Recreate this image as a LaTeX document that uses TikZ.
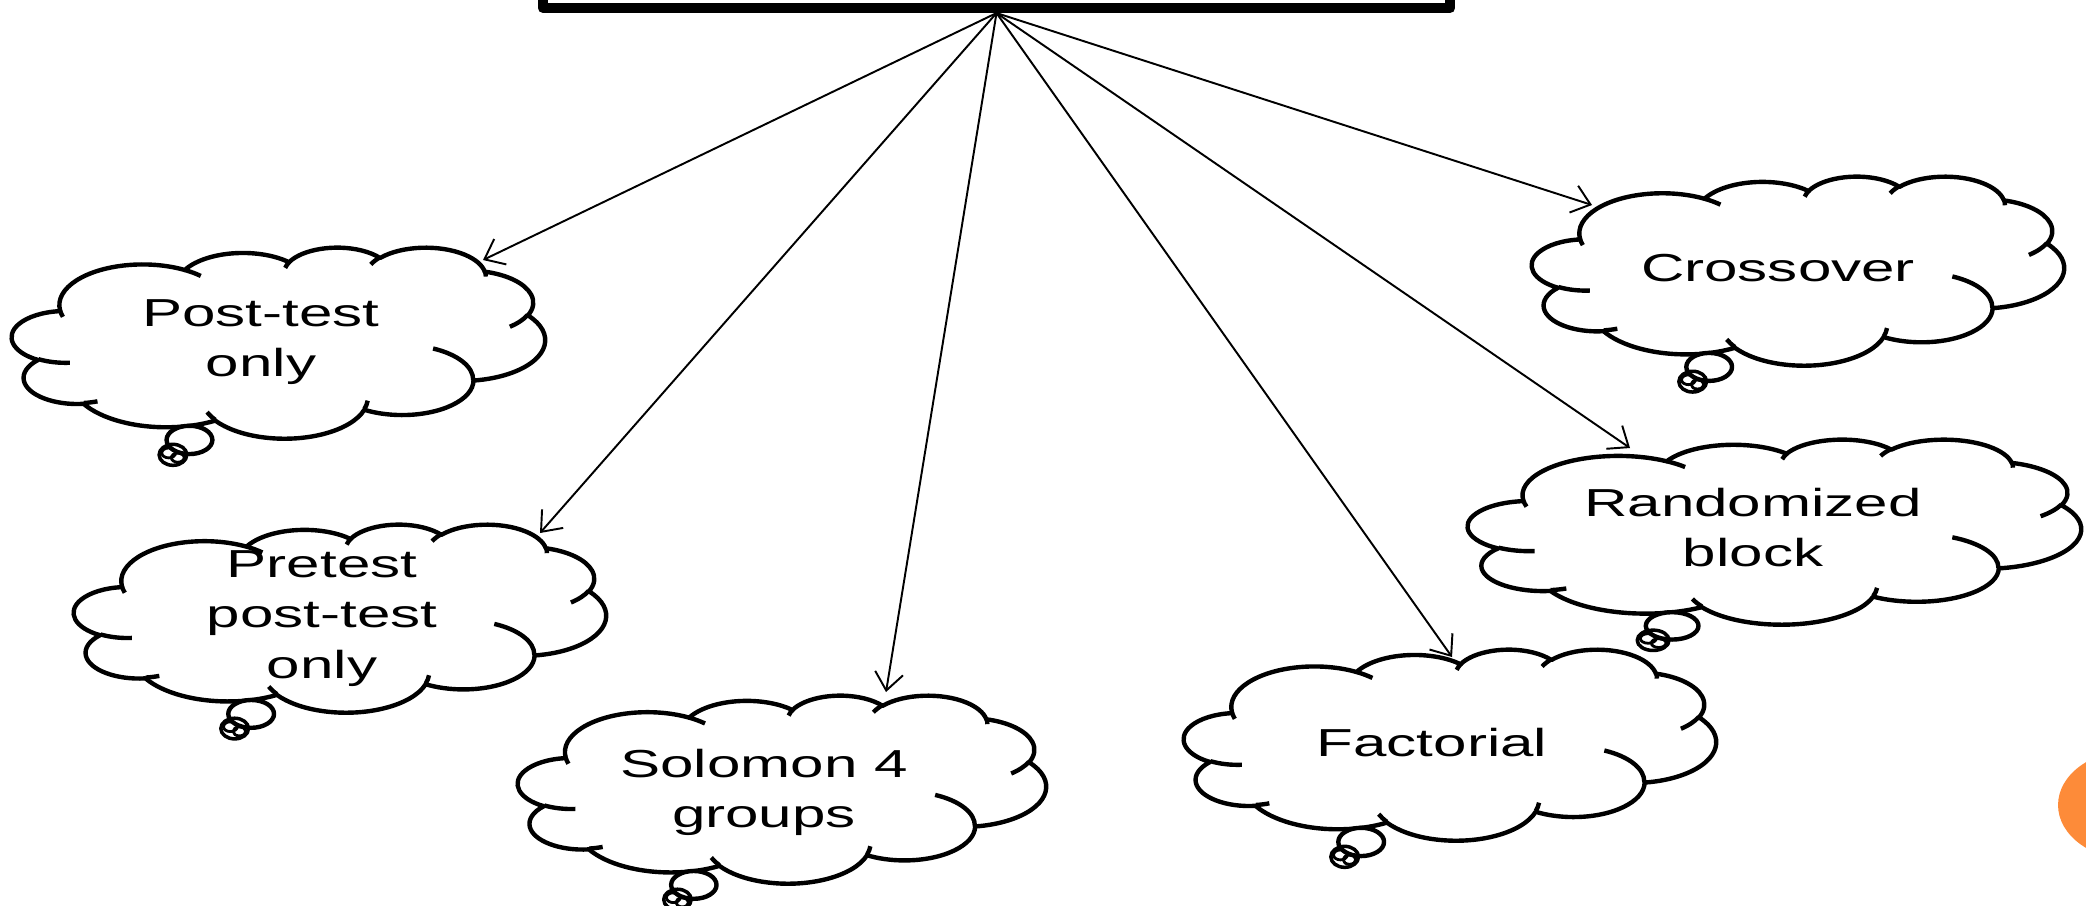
\documentclass[tikz,border=0pt]{standalone}
\usepackage{fontspec}
\newfontfamily\cloudfont{Liberation Sans}[FakeStretch=1.54]
\usetikzlibrary{arrows.meta}
\definecolor{slideorange}{RGB}{253,139,57}
% one arc of the callout outline: x radius, y radius, start and sweep angle (as seen)
\newcommand{\pptarc}[4]{arc[start angle={atan2((#1)*sin(#3),(#2)*cos(#3))},
  delta angle={mod(atan2((#1)*sin((#3)+(#4)),(#2)*cos((#3)+(#4)))-atan2((#1)*sin(#3),(#2)*cos(#3))+720,360)},
  x radius=#1, y radius=#2]}
% outline in a 100 x 100 frame, y down
\newcommand{\cloudbody}{(9.028,33.264)
  \pptarc{15.632}{21.273}{-190.4875}{123.7805}
  \pptarc{12.345}{16.822}{-144.1024}{89.9452}
  \pptarc{10.104}{13.762}{-145.8079}{99.7230}
  \pptarc{11.243}{15.266}{-130.9861}{117.2417}
  \pptarc{12.345}{16.836}{-78.7089}{109.0269}
  \pptarc{15.683}{21.343}{-46.2673}{130.2690}
  \pptarc{13.391}{18.211}{0.6250}{114.0333}
  \pptarc{15.630}{21.331}{22.4516}{115.1726}
  \pptarc{17.870}{24.405}{66.2426}{75.7110}
  \pptarc{10.093}{13.699}{-274.9421}{146.7356}
  \pptarc{10.058}{13.762}{-246.8285}{152.5189} -- cycle}
\newcommand{\cloudcrease}{(10.863,60.595) \pptarc{10.058}{13.762}{86.7420}{26.4295}
  (16.037,80.785) \pptarc{10.093}{13.699}{73.6105}{11.4475}
  (38.144,90.486) \pptarc{15.630}{21.331}{137.6242}{14.0811}
  (66.729,80.442) \pptarc{15.630}{21.331}{6.4533}{15.9984}
  (79.002,53.134) \pptarc{13.391}{18.211}{-70.2924}{70.9174}
  (96.755,35.542) \pptarc{12.345}{16.836}{30.3180}{27.7515}
  (88.713,12.560) \pptarc{11.243}{15.266}{-13.7443}{14.8604}
  (67.310,9.148) \pptarc{11.243}{15.266}{-149.1815}{18.1959}
  (51.252,10.926) \pptarc{10.104}{13.762}{-163.4943}{17.6864}
  (32.407,12.019) \pptarc{15.632}{21.273}{-66.7070}{12.3194}
  (9.553,36.549) \pptarc{15.632}{21.273}{157.6544}{11.8582}}
% cloud callout: left, top, width, height
\newcommand{\pptcloud}[4]{%
  \begin{scope}[shift={(#1,#2)}, xscale=#3/100, yscale=#4/100]
    \draw[cloudline, fill=white] \cloudbody;
    \draw[cloudline] \cloudcrease;
    \draw[cloudline, fill=white] (33.3,101) ellipse [x radius=4.3, y radius=7.4];
    \draw[line width=1pt] (30.2,108.8) ellipse [x radius=2.6, y radius=5.5];
    \draw[line width=0.8pt] (29.4,107.8) ellipse [x radius=1.3, y radius=2.6]
      (31.1,110.3) ellipse [x radius=1.2, y radius=2.4];
  \end{scope}}
\tikzset{
  cloudline/.style={line width=1.25pt},
  cloudtext/.style={align=center, inner sep=0pt,
    font=\cloudfont\fontsize{11.1}{14.4}\selectfont},
  arr/.style={-{Straight Barb[length=5pt,width=8pt]}, line width=0.55pt}}

\begin{document}
\begin{tikzpicture}[x=0.01cm, y=-0.01cm, line join=round]
\useasboundingbox (0,0) rectangle (2086,905);
\clip (0,0) rectangle (2086,905);
% slide number
\fill[slideorange] (2133,805) ellipse [x radius=75, y radius=55];
% title box, cut off by the top edge
\node[draw, line width=2.85pt, minimum width=9.07cm, minimum height=1.2cm] (top) at (996.5,-52) {};
% clouds
\pptcloud{12}{247}{533}{191}
\pptcloud{74}{524}{532}{188}
\pptcloud{518}{695}{528}{188}
\pptcloud{1184}{649}{532}{191}
\pptcloud{1468}{439}{613}{185}
\pptcloud{1532}{176}{532}{189}
% labels
\node[cloudtext] (posttest) at (261,342) {Post-test\\only};
\node[cloudtext] (pretest) at (322,618.5) {Pretest\\post-test\\only};
\node[cloudtext] (solomon) at (764,792.5) {Solomon 4\\groups};
\node[cloudtext] (factorial) at (1432,742.5) {Factorial};
\node[cloudtext] (randblock) at (1753,527.5) {Randomized\\block};
\node[cloudtext] (crossover) at (1778,268.5) {Crossover};
% where the arrows meet the clouds
\coordinate (posttest-in) at (483,260);
\coordinate (pretest-in) at (540,533);
\coordinate (solomon-in) at (886,692);
\coordinate (factorial-in) at (1452,657);
\coordinate (randblock-in) at (1630,448);
\coordinate (crossover-in) at (1592,205);
% arrows
\foreach \c in {posttest,pretest,solomon,factorial,randblock,crossover}
  \draw[arr] (top.south) -- (\c-in);
\end{tikzpicture}
\end{document}
